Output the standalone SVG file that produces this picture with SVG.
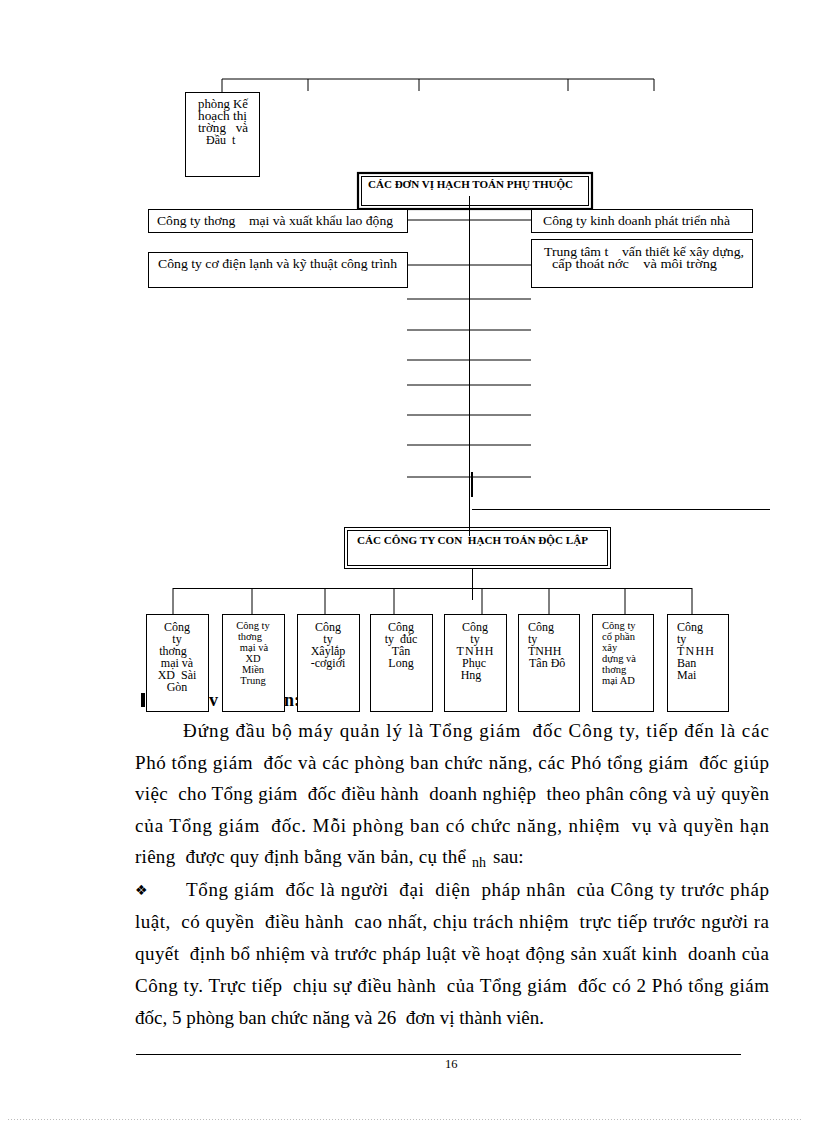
<svg xmlns="http://www.w3.org/2000/svg" width="816" height="1123" viewBox="0 0 816 1123" xml:space="preserve">
<style>
.ln{stroke:#000;stroke-width:1;fill:none}
.bx{fill:#fff;stroke:#000;stroke-width:1}
.t{font-family:"Liberation Serif","Times New Roman",serif;fill:#000;white-space:pre}
.s11{font-size:12px}
.s12{font-size:12px}
.s10{font-size:10.5px}
.hb{font-size:10.5px;font-weight:bold}
.p{font-size:19px}
.c{text-anchor:middle}
</style>
<rect x="0" y="0" width="816" height="1123" fill="#fff"/>
<g id="heading-fragments">
<rect x="141" y="693" width="4" height="14" fill="#000"/>
<text class="t" x="209" y="706" font-size="18" font-weight="bold">v</text>
<text class="t" x="284" y="706" font-size="18" font-weight="bold">n:</text>
</g>
<g id="connectors">
<polyline class="ln" points="222,92 222,79 654,79 654,91"/>
<line class="ln" x1="308" y1="79" x2="308" y2="91"/>
<line class="ln" x1="419" y1="79" x2="419" y2="91"/>
<line class="ln" x1="568" y1="79" x2="568" y2="91"/>
<line class="ln" x1="469.5" y1="196" x2="469.5" y2="536"/>
<line class="ln" x1="408" y1="220" x2="531" y2="220"/>
<line class="ln" x1="408" y1="265" x2="531" y2="265"/>
<line class="ln" x1="407" y1="299" x2="531" y2="299"/>
<line class="ln" x1="407" y1="330" x2="531" y2="330"/>
<line class="ln" x1="407" y1="360" x2="531" y2="360"/>
<line class="ln" x1="407" y1="385" x2="531" y2="385"/>
<line class="ln" x1="407" y1="415" x2="531" y2="415"/>
<line class="ln" x1="407" y1="445" x2="531" y2="445"/>
<line class="ln" x1="407" y1="477" x2="531" y2="477"/>
<line class="ln" x1="471.5" y1="472" x2="471.5" y2="497"/>
<line class="ln" x1="472.5" y1="472" x2="472.5" y2="497"/>
<line class="ln" x1="472" y1="509.5" x2="770" y2="509.5"/>
<line class="ln" x1="472.5" y1="561" x2="472.5" y2="600"/>
<line class="ln" x1="173" y1="588.5" x2="692" y2="588.5"/>
<line class="ln" x1="173" y1="588" x2="173" y2="614"/>
<line class="ln" x1="252" y1="588" x2="252" y2="614"/>
<line class="ln" x1="325" y1="588" x2="325" y2="614"/>
<line class="ln" x1="394" y1="588" x2="394" y2="614"/>
<line class="ln" x1="482" y1="588" x2="482" y2="614"/>
<line class="ln" x1="549" y1="588" x2="549" y2="614"/>
<line class="ln" x1="625" y1="588" x2="625" y2="614"/>
<line class="ln" x1="692" y1="588" x2="692" y2="614"/>
</g>
<g id="phong-ke-hoach">
<rect class="bx" x="185.5" y="92.5" width="74" height="84"/>
<text class="t s11" x="198" y="108" textLength="50" lengthAdjust="spacingAndGlyphs">phòng Kế</text>
<text class="t s11" x="198" y="120" textLength="49" lengthAdjust="spacingAndGlyphs">hoạch thị</text>
<text class="t s11" x="198" y="132" textLength="50" lengthAdjust="spacingAndGlyphs">trờng   và</text>
<text class="t s11" x="206" y="144">Đầu  t</text>
</g>
<g id="don-vi-phu-thuoc">
<rect x="358" y="173" width="234" height="36" fill="#fff" stroke="#000" stroke-width="2.2"/>
<rect x="361.5" y="176.5" width="227" height="29" fill="none" stroke="#000" stroke-width="1"/>
<text class="t hb" x="368" y="188" textLength="205" lengthAdjust="spacingAndGlyphs">CÁC ĐƠN VỊ HẠCH TOÁN PHỤ THUỘC</text>
</g>
<line class="ln" x1="469.5" y1="196" x2="469.5" y2="209"/>
<g id="cty-thuong-mai-xk">
<rect class="bx" x="148.5" y="209.5" width="259" height="23"/>
<text class="t s11" x="157" y="225" textLength="236" lengthAdjust="spacingAndGlyphs">Công ty thơng    mại và xuất khẩu lao động</text>
</g>
<g id="cty-kinh-doanh-nha">
<rect class="bx" x="531.5" y="209.5" width="221" height="23"/>
<text class="t s11" x="543" y="225" textLength="187" lengthAdjust="spacingAndGlyphs">Công ty kinh doanh phát triển nhà</text>
</g>
<g id="cty-co-dien-lanh">
<rect class="bx" x="148.5" y="252.5" width="259" height="35"/>
<text class="t s11" x="158" y="268" textLength="239" lengthAdjust="spacingAndGlyphs">Công ty cơ điện lạnh và kỹ thuật công trình</text>
</g>
<g id="trung-tam-tu-van">
<rect class="bx" x="531.5" y="239.5" width="221" height="48"/>
<text class="t s11" x="544" y="256" textLength="200" lengthAdjust="spacingAndGlyphs">Trung tâm t    vấn thiết kế xây dựng,</text>
<text class="t s11" x="552" y="268" textLength="165" lengthAdjust="spacingAndGlyphs">cấp thoát nớc    và môi trờng</text>
</g>
<g id="cong-ty-con-doc-lap">
<rect class="bx" x="344.5" y="527.5" width="266" height="41"/>
<rect x="347.5" y="530.5" width="260" height="35" fill="none" stroke="#000" stroke-width="1"/>
<text class="t hb" x="357" y="544" textLength="231" lengthAdjust="spacingAndGlyphs">CÁC CÔNG TY CON  HẠCH TOÁN ĐỘC LẬP</text>
</g>
<line class="ln" x1="469.5" y1="527" x2="469.5" y2="536"/>
<g id="cty-sai-gon">
<rect class="bx" x="146.5" y="614.5" width="62" height="97"/>
<text class="t s12 c" x="177" y="631">Công</text>
<text class="t s12 c" x="177" y="643">ty</text>
<text class="t s12 c" x="173" y="655">thơng</text>
<text class="t s12 c" x="177" y="667">mại và</text>
<text class="t s12 c" x="177" y="679">XD  Sài</text>
<text class="t s12 c" x="177" y="691">Gòn</text>
</g>
<g id="cty-mien-trung">
<rect class="bx" x="222.5" y="614.5" width="62" height="97"/>
<text class="t s10 c" x="253" y="629">Công ty</text>
<text class="t s10 c" x="250" y="640">thơng</text>
<text class="t s10 c" x="254" y="651">mại và</text>
<text class="t s10 c" x="253" y="662">XD</text>
<text class="t s10 c" x="253" y="673">Miền</text>
<text class="t s10 c" x="253" y="684">Trung</text>
</g>
<g id="cty-xay-lap">
<rect class="bx" x="297.5" y="614.5" width="62" height="97"/>
<text class="t s12 c" x="328" y="631">Công</text>
<text class="t s12 c" x="328" y="643">ty</text>
<text class="t s12 c" x="328" y="655">Xâylắp</text>
<text class="t s12 c" x="328" y="667">-cơgiới</text>
</g>
<g id="cty-duc-tan-long">
<rect class="bx" x="370.5" y="614.5" width="62" height="97"/>
<text class="t s12 c" x="401" y="631">Công</text>
<text class="t s12 c" x="401" y="643">ty  đúc</text>
<text class="t s12 c" x="401" y="655">Tân</text>
<text class="t s12 c" x="401" y="667">Long</text>
</g>
<g id="cty-phuc-hng">
<rect class="bx" x="444.5" y="614.5" width="62" height="97"/>
<text class="t s12 c" x="475" y="631">Công</text>
<text class="t s12 c" x="475" y="643">ty</text>
<text class="t s12 c" x="475" y="655" textLength="37" lengthAdjust="spacing">TNHH</text>
<text class="t s12 c" x="474" y="667">Phục</text>
<text class="t s12 c" x="471" y="679">Hng</text>
</g>
<g id="cty-tan-do">
<rect class="bx" x="518.5" y="614.5" width="61" height="97"/>
<text class="t s12" x="528" y="631">Công</text>
<text class="t s12" x="528" y="643">ty</text>
<text class="t s12" x="528" y="655">TNHH</text>
<text class="t s12" x="529" y="667">Tân Đô</text>
</g>
<g id="cty-co-phan-ad">
<rect class="bx" x="592.5" y="614.5" width="61" height="97"/>
<text class="t s10" x="602" y="629">Công ty</text>
<text class="t s10" x="602" y="640">cổ phần</text>
<text class="t s10" x="602" y="651">xây</text>
<text class="t s10" x="602" y="662">dựng và</text>
<text class="t s10" x="602" y="673">thơng</text>
<text class="t s10" x="602" y="684">mại AD</text>
</g>
<g id="cty-ban-mai">
<rect class="bx" x="667.5" y="614.5" width="61" height="97"/>
<text class="t s12" x="677" y="631">Công</text>
<text class="t s12" x="677" y="643">ty</text>
<text class="t s12" x="677" y="655" textLength="37" lengthAdjust="spacing">TNHH</text>
<text class="t s12" x="677" y="667">Ban</text>
<text class="t s12" x="677" y="679">Mai</text>
</g>
<g id="paragraph">
<text class="t p" x="183" y="737" textLength="586" lengthAdjust="spacing">Đứng đầu bộ máy quản lý là Tổng giám  đốc Công ty, tiếp đến là các</text>
<text class="t p" x="135" y="769" textLength="634" lengthAdjust="spacing">Phó tổng giám  đốc và các phòng ban chức năng, các Phó tổng giám  đốc giúp</text>
<text class="t p" x="135" y="800" textLength="634" lengthAdjust="spacing">việc  cho Tổng giám  đốc điều hành  doanh nghiệp  theo phân công và uỷ quyền</text>
<text class="t p" x="135" y="832" textLength="634" lengthAdjust="spacing">của Tổng giám  đốc. Mỗi phòng ban có chức năng, nhiệm  vụ và quyền hạn</text>
<text class="t p" x="135" y="863" textLength="331" lengthAdjust="spacing">riêng  được quy định bằng văn bản, cụ thể</text>
<text class="t" x="472" y="867" font-size="14">nh</text>
<text class="t p" x="493" y="863">sau:</text>
<text x="135" y="895" font-family="DejaVu Sans,sans-serif" font-size="14" fill="#000">❖</text>
<text class="t p" x="186" y="896" textLength="583" lengthAdjust="spacing">Tổng giám  đốc là người  đại  diện  pháp nhân  của Công ty trước pháp</text>
<text class="t p" x="135" y="928" textLength="634" lengthAdjust="spacing">luật,  có quyền  điều hành  cao nhất, chịu trách nhiệm  trực tiếp trước người ra</text>
<text class="t p" x="135" y="960" textLength="634" lengthAdjust="spacing">quyết  định bổ nhiệm và trước pháp luật về hoạt động sản xuất kinh  doanh của</text>
<text class="t p" x="135" y="992" textLength="634" lengthAdjust="spacing">Công ty. Trực tiếp  chịu sự điều hành  của Tổng giám  đốc có 2 Phó tổng giám</text>
<text class="t p" x="135" y="1024" textLength="409" lengthAdjust="spacing">đốc, 5 phòng ban chức năng và 26  đơn vị thành viên.</text>
</g>
<g id="footer">
<line x1="136" y1="1054.5" x2="741" y2="1054.5" stroke="#000" stroke-width="1.2"/>
<text class="t" x="445" y="1068" font-size="12.5">16</text>
<line x1="8" y1="1119.5" x2="802" y2="1119.5" stroke="#bbb" stroke-width="1" stroke-dasharray="1,2"/>
</g>
</svg>
